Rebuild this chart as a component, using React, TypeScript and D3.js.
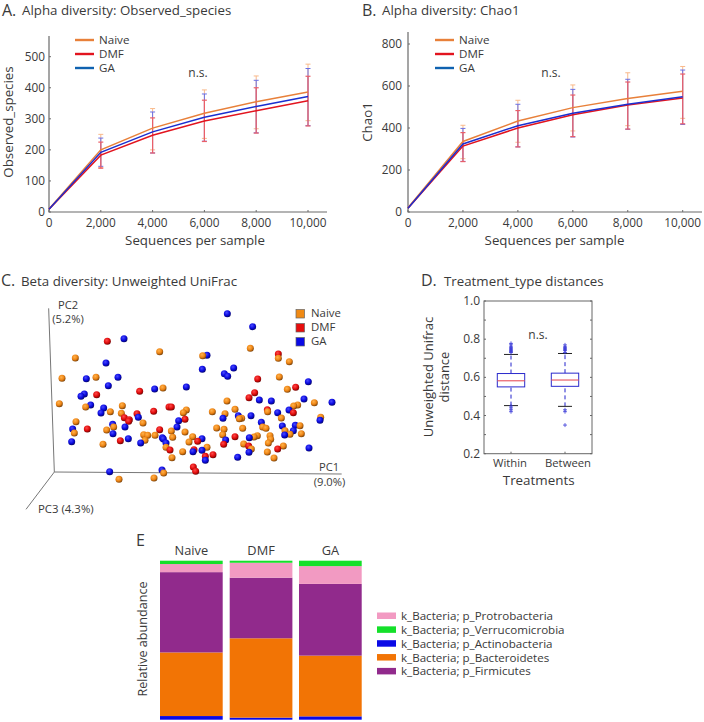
import React from "react";
import * as d3 from "d3";

const FONT = "'Open Sans', sans-serif";
const INK = "#3a3a3a";

const seqDepths = [0, 2000, 4000, 6000, 8000, 10000];
const rareSeries = ["Naive", "DMF", "GA"];
const rareColors: Record<string, string> = { Naive: "#e8803a", DMF: "#e2141f", GA: "#1a2fd0" };
const legendColors: Record<string, string> = { Naive: "#e8803a", DMF: "#e2141f", GA: "#0f62b0" };
const barTint: Record<string, string> = { Naive: "#f9b98a", DMF: "#ea5f68", GA: "#6a70e4" };

const obsNaive = [10, 200, 270, 318, 355, 386];
const obsDmf = [9, 183, 247, 293, 326, 358];
const obsGa = [9, 192, 258, 305, 340, 372];
const obsNaiveLow = [10, 143, 200, 237, 268, 294];
const obsNaiveHigh = [10, 250, 333, 393, 438, 476];
const obsDmfLow = [9, 141, 190, 227, 254, 277];
const obsDmfHigh = [9, 225, 303, 360, 400, 437];
const obsGaLow = [9, 147, 190, 228, 255, 278];
const obsGaHigh = [9, 238, 322, 380, 424, 462];

const chaoNaive = [20, 336, 433, 497, 540, 575];
const chaoDmf = [18, 314, 400, 463, 510, 543];
const chaoGa = [18, 324, 411, 470, 513, 549];
const chaoNaiveLow = [20, 254, 332, 386, 411, 446];
const chaoNaiveHigh = [20, 413, 532, 605, 663, 693];
const chaoDmfLow = [18, 240, 310, 359, 395, 420];
const chaoDmfHigh = [18, 378, 483, 557, 619, 657];
const chaoGaLow = [18, 241, 310, 357, 394, 417];
const chaoGaHigh = [18, 398, 513, 584, 632, 676];

// PCoA scores in picture units along PC1 / PC2
const pcoaNaive: [number, number][] = [[479,275],[226,294],[186,355],[288,352],[489,384],[178,431],[257,441],[367,437],[331,455],[364,460],[228,485],[429,489],[341,501],[320,510],[223,519],[514,513],[431,524],[443,526],[465,526],[518,532],[435,541],[309,553],[498,562],[516,593],[357,658],[462,654],[491,639],[608,287],[751,265],[835,295],[868,305],[838,351],[862,388],[681,423],[943,428],[893,435],[881,438],[705,448],[559,450],[550,458],[637,455],[803,455],[675,461],[718,476],[725,475],[844,474],[962,472],[650,504],[672,508],[728,505],[788,501],[798,505],[900,497],[555,516],[668,524],[855,512],[870,523],[904,521],[578,530],[772,527],[762,531],[810,527],[812,538],[805,549],[567,546],[731,552],[621,562],[754,567],[850,558],[548,575],[802,576],[822,594]];
const pcoaDmf: [number, number][] = [[322,244],[290,404],[419,394],[507,441],[514,441],[461,454],[411,461],[373,473],[388,479],[386,484],[262,507],[479,509],[361,542],[510,570],[835,282],[773,357],[887,382],[764,398],[747,413],[802,449],[880,458],[555,478],[705,530],[593,544],[671,553],[746,558],[582,569],[833,567],[616,589],[639,584],[580,621],[587,634]];
const pcoaGa: [number, number][] = [[372,236],[318,309],[259,356],[354,352],[325,377],[464,387],[253,402],[243,409],[272,435],[311,444],[303,459],[415,472],[338,493],[375,501],[218,507],[339,521],[385,536],[215,545],[422,549],[487,533],[490,537],[498,549],[536,482],[531,501],[329,635],[486,630],[682,161],[758,200],[621,286],[607,328],[701,324],[673,341],[683,349],[559,381],[925,365],[778,420],[814,423],[912,417],[996,427],[867,450],[833,458],[715,467],[753,467],[669,475],[784,487],[960,481],[847,498],[886,496],[880,512],[854,525],[748,533],[606,536],[677,540],[579,575],[606,571],[747,577],[927,564],[713,592],[616,601]];

const distBoxNames = ["Within", "Between"];
const distQ1 = [0.55, 0.553];
const distMedian = [0.582, 0.586];
const distQ3 = [0.62, 0.622];
const distWhiskLow = [0.452, 0.448];
const distWhiskHigh = [0.72, 0.725];
const distOutliers = [
  [0.73,0.735,0.74,0.745,0.75,0.755,0.76,0.77,0.778,0.45,0.44,0.43,0.42],
  [0.73,0.74,0.745,0.75,0.755,0.76,0.77,0.43,0.42,0.35],
];

const taxaGroups = ["Naive", "DMF", "GA"];
const taxaStackOrder = ["Actinobacteria", "Bacteroidetes", "Firmicutes", "Protrobacteria", "Verrucomicrobia"];
const taxaActino = [2.3, 1.3, 2.1];
const taxaBacter = [40.0, 49.9, 38.2];
const taxaFirmi = [50.5, 38.1, 45.1];
const taxaProto = [5.1, 9.4, 11.2];
const taxaVerru = [2.1, 1.3, 3.4];
const taxaColors: Record<string, string> = {
  Actinobacteria: "#0a0ae6", Bacteroidetes: "#f27405", Firmicutes: "#912a8c",
  Protrobacteria: "#f29ac2", Verrucomicrobia: "#14e02a",
};
const taxaLegend = ["Protrobacteria", "Verrucomicrobia", "Actinobacteria", "Bacteroidetes", "Firmicutes"];

function T({ x, y, s = 12, a = "start", rot, children, fill = INK }: any) {
  return (
    <text x={x} y={y} fontSize={s} textAnchor={a} fill={fill} fontFamily={FONT}
      transform={rot !== undefined ? `rotate(${rot} ${x} ${y})` : undefined}>{children}</text>
  );
}

function Rare({ x0, x1, xEnd, yTop, y0, yMax, yMaxPx, yTicks, yLabel, yLabelX, xLabelX, tickGap, values, lows, highs, nsX, nsY, legX, legY }: any) {
  const x = d3.scaleLinear().domain([0, 10000]).range([x0, x1]);
  const y = d3.scaleLinear().domain([0, yMax]).range([y0, yMaxPx]);
  const line = (v: number[]) => d3.line<number>().x((_, i) => x(seqDepths[i])).y((d) => y(d))(v)!;
  const fmt = d3.format(",");
  return (
    <g>
      <path d={`M${x0},${yTop}V${y0}H${xEnd}`} fill="none" stroke="#6a6a6a" strokeWidth={1.2} />
      {seqDepths.map((t) => (
        <g key={t}>
          <line x1={x(t)} x2={x(t)} y1={y0} y2={y0 - 2} stroke="#6a6a6a" />
          <T x={x(t)} y={y0 + 15} a="middle" s={11.8}>{fmt(t)}</T>
        </g>
      ))}
      {yTicks.map((t: number) => (
        <g key={t}>
          <line x1={x0} x2={x0 + 2} y1={y(t)} y2={y(t)} stroke="#6a6a6a" />
          <T x={x0 - tickGap} y={y(t) + 4} a="end" s={11.8}>{t}</T>
        </g>
      ))}
      <T x={yLabelX} y={122} a="middle" s={13.3} rot={-90}>{yLabel}</T>
      <T x={xLabelX} y={y0 + 33} a="middle" s={13.3}>Sequences per sample</T>
      {["Naive", "GA", "DMF"].map((n) =>
        seqDepths.map((d, i) => i === 0 ? null : (
          <g key={n + d} stroke={barTint[n]} strokeWidth={n === "DMF" ? 1.2 : 1}>
            <line x1={x(d)} x2={x(d)} y1={y(lows[n][i])} y2={y(highs[n][i])} />
            <line x1={x(d) - 2.5} x2={x(d) + 2.5} y1={y(lows[n][i])} y2={y(lows[n][i])} />
            <line x1={x(d) - 2.5} x2={x(d) + 2.5} y1={y(highs[n][i])} y2={y(highs[n][i])} />
          </g>
        ))
      )}
      {rareSeries.map((n) => <path key={n} d={line(values[n])} fill="none" stroke={rareColors[n]} strokeWidth={1.5} />)}
      <T x={nsX} y={nsY} a="middle" s={12}>n.s.</T>
      {rareSeries.map((n, i) => (
        <g key={n}>
          <line x1={legX} x2={legX + 19} y1={legY + i * 14} y2={legY + i * 14} stroke={legendColors[n]} strokeWidth={2.4} />
          <T x={legX + 24} y={legY + i * 14 + 4} s={11.6}>{n}</T>
        </g>
      ))}
    </g>
  );
}

function Pcoa() {
  const x = d3.scaleLinear().domain([0, 1080]).range([0, 360]);
  const y = d3.scaleLinear().domain([0, 780]).range([260, 520]);
  const groups: [string, [number, number][]][] = [["Naive", pcoaNaive], ["DMF", pcoaDmf], ["GA", pcoaGa]];
  const all = groups.flatMap(([n, pts]) => pts.map((p) => ({ n, p }))).sort((a, b) => a.p[1] - b.p[1]);
  const ox = x(163), oy = y(636);
  return (
    <g>
      <defs>
        {[["Naive", "#ffb34d", "#ee8414", "#6e3a06"], ["DMF", "#ff4a4a", "#e00b0b", "#640303"], ["GA", "#4a4aff", "#0a0ae0", "#030360"]].map(([n, a, b, c]) => (
          <radialGradient key={n} id={"sph" + n} cx="40%" cy="35%" r="70%">
            <stop offset="0%" stopColor={a} />
            <stop offset="55%" stopColor={b} />
            <stop offset="100%" stopColor={c} />
          </radialGradient>
        ))}
      </defs>
      <line x1={x(146)} y1={y(145)} x2={ox} y2={oy} stroke="#777" />
      <line x1={ox} y1={oy} x2={x(1025)} y2={y(642)} stroke="#777" />
      <line x1={ox} y1={oy} x2={x(78)} y2={y(748)} stroke="#777" />
      {all.map((d, i) => <circle key={i} cx={x(d.p[0])} cy={y(d.p[1])} r={3.5} fill={`url(#sph${d.n})`} />)}
      <T x={68} y={309} a="middle" s={11.2}>PC2</T>
      <T x={68} y={323} a="middle" s={11.2}>(5.2%)</T>
      <T x={329} y={471} a="middle" s={11.2}>PC1</T>
      <T x={329.5} y={486} a="middle" s={11.2}>(9.0%)</T>
      <T x={38} y={513} s={11.4}>PC3 (4.3%)</T>
      {rareSeries.map((n, i) => (
        <g key={n}>
          <rect x={296} y={309.5 + i * 14} width={8.5} height={8.5} fill={n === "Naive" ? "#f08a14" : n === "DMF" ? "#e60d0d" : "#0a0ae6"} stroke="#666" strokeWidth={0.7} />
          <T x={311} y={317 + i * 14} s={11.4}>{n}</T>
        </g>
      ))}
    </g>
  );
}

function Dist() {
  const left = 484, right = 592, top = 301, bottom = 453.7;
  const y = d3.scaleLinear().domain([0.2, 1]).range([bottom, top]);
  const x = d3.scalePoint().domain(distBoxNames).range([511, 565]);
  const ticks = d3.range(0.2, 1.01, 0.1);
  const labelled = [0.2, 0.4, 0.6, 0.8, 1.0];
  const labelX = [510, 568];
  const hw = 13.7;
  return (
    <g>
      <rect x={left} y={top} width={right - left} height={bottom - top} fill="none" stroke="#666" strokeWidth={1} />
      {ticks.map((t) => (
        <g key={t} stroke="#666">
          <line x1={left} x2={left + 2} y1={y(t)} y2={y(t)} />
          <line x1={right} x2={right - 2} y1={y(t)} y2={y(t)} />
        </g>
      ))}
      {labelled.map((t) => <T key={t} x={480} y={y(t) + 4} a="end" s={12}>{t.toFixed(1)}</T>)}
      {distBoxNames.map((n, i) => {
        const cx = x(n)!;
        return (
          <g key={n}>
            <line x1={cx} x2={cx} y1={bottom} y2={bottom - 2} stroke="#666" />
            <T x={labelX[i]} y={467} a="middle" s={11.3}>{n}</T>
            <line x1={cx} x2={cx} y1={y(distWhiskLow[i])} y2={y(distQ1[i])} stroke="#2222cc" strokeDasharray="4 3" />
            <line x1={cx} x2={cx} y1={y(distQ3[i])} y2={y(distWhiskHigh[i])} stroke="#2222cc" strokeDasharray="4 3" />
            <line x1={cx - 7} x2={cx + 7} y1={y(distWhiskLow[i])} y2={y(distWhiskLow[i])} stroke="#222" />
            <line x1={cx - 7} x2={cx + 7} y1={y(distWhiskHigh[i])} y2={y(distWhiskHigh[i])} stroke="#222" />
            <rect x={cx - hw} y={y(distQ3[i])} width={hw * 2} height={y(distQ1[i]) - y(distQ3[i])} fill="none" stroke="#2a2acc" strokeWidth={1} />
            <line x1={cx - hw} x2={cx + hw} y1={y(distMedian[i])} y2={y(distMedian[i])} stroke="#e8505a" strokeWidth={1.1} />
            {distOutliers[i].map((o, j) => (
              <path key={j} d={`M${cx - 2},${y(o)}H${cx + 2}M${cx},${y(o) - 2}V${y(o) + 2}`} stroke="#3a3ad8" strokeWidth={0.8} />
            ))}
          </g>
        );
      })}
      <T x={538} y={339} a="middle" s={12}>n.s.</T>
      <T x={538.7} y={485} a="middle" s={13.4}>Treatments</T>
      <T x={433} y={377} a="middle" s={13} rot={-90}>Unweighted Unifrac</T>
      <T x={449} y={377} a="middle" s={13} rot={-90}>distance</T>
    </g>
  );
}

function Taxa() {
  const x0s = d3.scaleOrdinal<string, number>().domain(taxaGroups).range([160, 229.7, 299]);
  const y = d3.scaleLinear().domain([0, 100]).range([719.7, 560.7]);
  const w = 62.7;
  const rows = taxaGroups.map((g, i) => ({
    g, Actinobacteria: taxaActino[i], Bacteroidetes: taxaBacter[i], Firmicutes: taxaFirmi[i],
    Protrobacteria: taxaProto[i], Verrucomicrobia: taxaVerru[i],
  }));
  const stack = d3.stack<any>().keys(taxaStackOrder)(rows);
  return (
    <g>
      {stack.map((s) => s.map((d: any, i: number) => (
        <rect key={s.key + i} x={x0s(d.data.g)} width={w} y={y(d[1])} height={y(d[0]) - y(d[1])} fill={taxaColors[s.key]} />
      )))}
      {taxaGroups.map((g) => <T key={g} x={x0s(g) + w / 2} y={555} a="middle" s={12.8}>{g}</T>)}
      <T x={146.5} y={639} a="middle" s={12.6} rot={-90}>Relative abundance</T>
      {taxaLegend.map((k, i) => (
        <g key={k}>
          <rect x={377} y={612.5 + i * 13.85} width={19} height={6.5} fill={taxaColors[k]} />
          <T x={401} y={620 + i * 13.85} s={11.6}>k_Bacteria; p_{k}</T>
        </g>
      ))}
    </g>
  );
}

export default function App() {
  return (
    <svg width={704} height={722} style={{ position: "absolute", left: 0, top: 0, background: "#fff" }}>
      <T x={2} y={16} s={16}>A.</T>
      <T x={22} y={15} s={13.3}>Alpha diversity: Observed_species</T>
      <T x={362} y={16} s={16}>B.</T>
      <T x={382} y={15} s={13.3}>Alpha diversity: Chao1</T>
      <T x={1} y={286} s={16}>C.</T>
      <T x={21} y={286} s={13.3}>Beta diversity: Unweighted UniFrac</T>
      <T x={421} y={286} s={16}>D.</T>
      <T x={444} y={286} s={13.3}>Treatment_type distances</T>
      <T x={136} y={546} s={16}>E</T>
      <Rare x0={49} x1={308} xEnd={327} yTop={36} y0={212} yMax={500} yMaxPx={56.7} yTicks={[0, 100, 200, 300, 400, 500]}
        yLabel="Observed_species" yLabelX={13} xLabelX={195} tickGap={4}
        values={{ Naive: obsNaive, DMF: obsDmf, GA: obsGa }}
        lows={{ Naive: obsNaiveLow, DMF: obsDmfLow, GA: obsGaLow }}
        highs={{ Naive: obsNaiveHigh, DMF: obsDmfHigh, GA: obsGaHigh }}
        nsX={198} nsY={77} legX={75} legY={40} />
      <Rare x0={408} x1={682.7} xEnd={702} yTop={32} y0={212} yMax={800} yMaxPx={44} yTicks={[0, 200, 400, 600, 800]}
        yLabel="Chao1" yLabelX={372} xLabelX={554.5} tickGap={6}
        values={{ Naive: chaoNaive, DMF: chaoDmf, GA: chaoGa }}
        lows={{ Naive: chaoNaiveLow, DMF: chaoDmfLow, GA: chaoGaLow }}
        highs={{ Naive: chaoNaiveHigh, DMF: chaoDmfHigh, GA: chaoGaHigh }}
        nsX={551} nsY={77} legX={435} legY={40} />
      <Pcoa />
      <Dist />
      <Taxa />
    </svg>
  );
}
